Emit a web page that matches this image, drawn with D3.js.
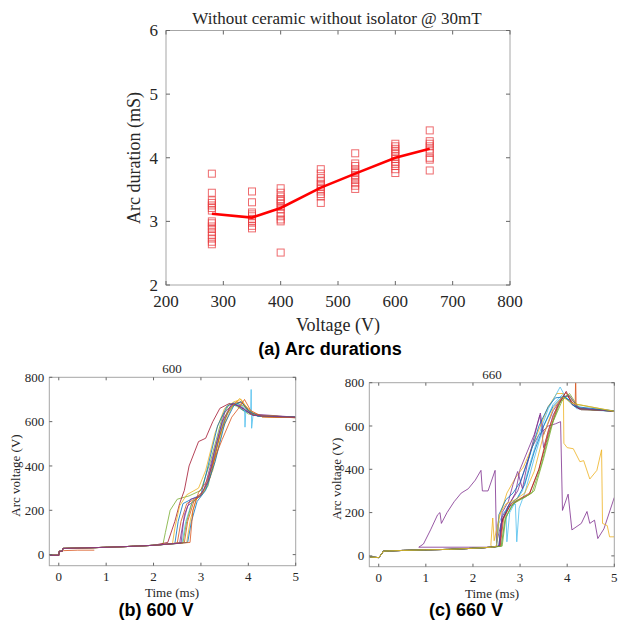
<!DOCTYPE html>
<html>
<head>
<meta charset="utf-8">
<script src="https://cdn.jsdelivr.net/npm/d3@7"></script>
<style>
  body { margin: 0; background: #fff; }
  text { font-family: "Liberation Serif", "Times New Roman", serif; fill: #262626; }
  .cap { font-family: "Liberation Sans", Arial, sans-serif; font-weight: bold; fill: #000; }
</style>
</head>
<body>
<svg id="chart"></svg>
<script>
// ---- (a) arc durations ----
const voltages = [280, 350, 400, 470, 530, 600, 660];
const dur280 = [3.75, 3.45, 3.33, 3.29, 3.25, 3.21, 3.17, 3.0, 2.97, 2.92, 2.88, 2.83, 2.78, 2.73, 2.68, 2.64];
const dur350 = [3.47, 3.30, 3.14, 3.11, 3.08, 3.04, 3.01, 2.98, 2.93, 2.89];
const dur400 = [3.52, 3.45, 3.39, 3.35, 3.32, 3.28, 3.23, 3.19, 3.13, 3.08, 3.03, 3.0, 2.51];
const dur470 = [3.82, 3.75, 3.68, 3.63, 3.59, 3.55, 3.51, 3.47, 3.43, 3.39, 3.29];
const dur530 = [4.07, 3.91, 3.87, 3.82, 3.78, 3.73, 3.69, 3.65, 3.60, 3.56, 3.51];
const dur600 = [4.22, 4.18, 4.14, 4.10, 4.06, 4.02, 3.98, 3.94, 3.90, 3.87, 3.82, 3.76];
const dur660 = [4.43, 4.26, 4.22, 4.18, 4.13, 4.08, 4.0, 3.97, 3.80];
const durations = [dur280, dur350, dur400, dur470, dur530, dur600, dur660];
const meanDur = [3.12, 3.06, 3.21, 3.53, 3.75, 4.0, 4.14];
const xTicksA = [200, 300, 400, 500, 600, 700, 800];
const yTicksA = [2, 3, 4, 5, 6];

// ---- (b) 600 V traces, time (ms) / voltage (V) ----
const baseB = [[-0.2, -3], [0, -3], [0.01, 15], [0.07, 15], [0.09, 28], [0.5, 30], [1, 33], [1.5, 37], [2, 42]];
const b1 = [[2.2, 48], [2.25, 100], [2.35, 200], [2.5, 250], [2.75, 265], [3.0, 290], [3.2, 420], [3.45, 620], [3.6, 680], [3.75, 670], [4.0, 635], [4.3, 622], [5, 618]];
const b2 = [[2.3, 55], [2.45, 150], [2.55, 230], [2.65, 290], [2.75, 400], [2.95, 510], [3.1, 525], [3.25, 600], [3.4, 660], [3.6, 682], [3.8, 670], [4.1, 628], [5, 620]];
const b3 = [[2.4, 50], [2.45, 120], [2.55, 220], [2.7, 270], [2.95, 300], [3.1, 380], [3.3, 550], [3.5, 660], [3.7, 690], [3.85, 700], [4.0, 650], [4.3, 622], [5, 618]];
const b4 = [[2.45, 50], [2.52, 150], [2.62, 230], [2.8, 250], [3.0, 270], [3.15, 400], [3.35, 580], [3.55, 670], [3.7, 685], [3.9, 650], [4.2, 625], [5, 620]];
const b5 = [[2.5, 52], [2.58, 150], [2.7, 230], [2.9, 255], [3.1, 300], [3.3, 460], [3.5, 620], [3.7, 680], [3.85, 690], [4.0, 645], [4.3, 622], [5, 618]];
const b6 = [[2.55, 52], [2.62, 140], [2.72, 220], [2.9, 250], [3.05, 280], [3.25, 440], [3.45, 600], [3.65, 680], [3.8, 675], [4.05, 635], [5, 620]];
const b7 = [[2.6, 52], [2.68, 150], [2.8, 230], [2.95, 260], [3.1, 300], [3.25, 420], [3.45, 590], [3.65, 670], [3.8, 680], [3.92, 660], [3.93, 575], [3.95, 660], [4.05, 640], [4.06, 745], [4.07, 570], [4.1, 630], [5, 618]];
const b8 = [[2.62, 52], [2.7, 150], [2.82, 240], [3.0, 265], [3.15, 310], [3.35, 500], [3.55, 640], [3.75, 685], [3.9, 670], [4.1, 630], [5, 620]];
const b9 = [[2.65, 55], [2.72, 150], [2.85, 240], [3.0, 270], [3.2, 350], [3.4, 540], [3.6, 660], [3.75, 690], [3.9, 680], [4.1, 630], [5, 620]];
const b10 = [[2.7, 55], [2.78, 160], [2.9, 250], [3.05, 280], [3.25, 380], [3.45, 560], [3.65, 665], [3.82, 705], [3.95, 670], [4.15, 628], [5, 618]];
const b11 = [[2.72, 55], [2.8, 150], [2.92, 240], [3.1, 290], [3.3, 420], [3.5, 590], [3.7, 675], [3.85, 690], [4.0, 650], [4.2, 625], [5, 620]];
const b12 = [[2.77, 55], [2.83, 200], [2.95, 280], [3.12, 330], [3.3, 440], [3.45, 520], [3.65, 620], [3.83, 670], [3.92, 700], [4.05, 650], [4.3, 622], [5, 618]];
const b13 = [[2.58, 52], [2.65, 180], [2.78, 250], [2.98, 262], [3.15, 330], [3.3, 480], [3.5, 640], [3.68, 682], [3.85, 665], [4.1, 628], [5, 620]];
const bShort = [[-0.2, -3], [0, -3], [0.01, 12], [0.1, 18], [0.4, 20], [0.75, 20]];
const tracesB = [b1, b2, b3, b4, b5, b6, b7, b8, b9, b10, b11, b12, b13];
const colorsB = ["#77AC30", "#A2142F", "#EDB120", "#0072BD", "#D95319", "#7E2F8E", "#4DBEEE", "#77AC30", "#D95319", "#EDB120", "#0072BD", "#D95319", "#7E2F8E"];

// ---- (c) 660 V traces ----
const baseC = [[-0.2, -5], [0, -8], [0.05, 5], [0.1, 22], [0.5, 25], [1, 28], [1.5, 30], [2, 35], [2.4, 40]];
const c1 = [[0.85, 40], [0.95, 55], [1.1, 120], [1.25, 190], [1.3, 200], [1.33, 150], [1.45, 200], [1.6, 250], [1.75, 290], [1.9, 310], [2.05, 350], [2.17, 395], [2.2, 300], [2.32, 300], [2.47, 395], [2.5, 60], [2.6, 150], [2.75, 230], [2.9, 290], [3.0, 400], [3.15, 480], [3.3, 560], [3.42, 650], [3.5, 500], [3.7, 650], [3.9, 730], [4.0, 740], [4.2, 685], [5, 668]];
const c2 = [[2.55, 45], [2.62, 180], [2.8, 250], [2.95, 300], [3.1, 400], [3.25, 500], [3.4, 560], [3.6, 600], [3.75, 610], [3.86, 620], [3.9, 210], [4.02, 285], [4.1, 120], [4.3, 150], [4.42, 205], [4.48, 150], [4.58, 165], [4.65, 80], [4.78, 125], [5, 270]];
const c3 = [[2.38, 50], [2.42, 175], [2.45, 70], [2.55, 170], [2.72, 290], [2.9, 360], [3.07, 410], [3.25, 500], [3.43, 600], [3.6, 690], [3.78, 750], [3.92, 750], [3.93, 520], [4.0, 500], [4.13, 495], [4.27, 435], [4.35, 440], [4.48, 355], [4.63, 395], [4.73, 490], [4.75, 150], [4.85, 140], [4.9, 88], [5, 88]];
const c4 = [[2.5, 45], [2.55, 150], [2.65, 200], [2.7, 210], [2.72, 65], [2.78, 200], [2.9, 250], [3.05, 300], [3.2, 420], [3.4, 560], [3.6, 680], [3.85, 780], [3.95, 740], [4.2, 680], [5, 668]];
const c5 = [[2.6, 45], [2.68, 160], [2.8, 230], [2.9, 240], [2.93, 65], [2.98, 220], [3.1, 290], [3.3, 450], [3.5, 600], [3.7, 700], [3.9, 745], [4.1, 700], [4.3, 675], [5, 668]];
const c6 = [[2.55, 45], [2.6, 150], [2.75, 230], [2.95, 270], [3.1, 330], [3.3, 480], [3.5, 600], [3.7, 690], [3.9, 735], [4.05, 720], [4.25, 680], [5, 668]];
const c7 = [[2.58, 45], [2.65, 170], [2.8, 240], [3.0, 265], [3.2, 290], [3.4, 400], [3.6, 580], [3.8, 700], [3.97, 755], [4.1, 710], [4.17, 700], [4.18, 830], [4.19, 690], [4.3, 675], [5, 670]];
const c8 = [[2.57, 45], [2.63, 170], [2.78, 230], [3.0, 262], [3.2, 285], [3.4, 400], [3.6, 560], [3.8, 690], [3.98, 760], [4.1, 700], [4.25, 680], [5, 668]];
const c9 = [[2.6, 45], [2.68, 170], [2.85, 240], [3.05, 265], [3.25, 290], [3.45, 420], [3.65, 590], [3.85, 710], [4.02, 745], [4.12, 715], [4.2, 700], [4.3, 678], [5, 668]];
const c10 = [[2.56, 45], [2.62, 200], [2.75, 250], [2.85, 330], [2.95, 390], [3.05, 310], [3.15, 420], [3.3, 550], [3.43, 660], [3.5, 560], [3.7, 670], [3.9, 735], [4.05, 740], [4.25, 680], [5, 668]];
const c11 = [[2.5, 45], [2.55, 190], [2.7, 260], [2.85, 290], [3.0, 340], [3.2, 460], [3.4, 600], [3.6, 690], [3.75, 730], [3.95, 735], [4.15, 690], [5, 670]];
const c12 = [[2.62, 45], [2.7, 180], [2.88, 250], [3.1, 270], [3.3, 300], [3.5, 450], [3.7, 620], [3.9, 720], [4.05, 750], [4.2, 700], [5, 668]];
const c13 = [[2.5, 45], [2.56, 190], [2.7, 240], [2.9, 260], [3.1, 290], [3.3, 390], [3.5, 560], [3.7, 680], [3.9, 735], [4.1, 705], [5, 668]];
const tracesC = [c1, c2, c3, c4, c5, c6, c7, c8, c9, c10, c11, c12, c13];
const colorsC = ["#7E2F8E", "#7E2F8E", "#EDB120", "#4DBEEE", "#4DBEEE", "#0072BD", "#D95319", "#A2142F", "#77AC30", "#7E2F8E", "#0072BD", "#77AC30", "#EDB120"];

const xTicksB = [0, 1, 2, 3, 4, 5];
const yTicksB = [0, 200, 400, 600, 800];

const svg = d3.select("#chart").attr("width", 620).attr("height", 625);

// inward ticks on all four sides + grey box
function boxAxes(g, x, y, xt, yt, tick, fs, lblX, lblY) {
    const [x0, x1] = x.range(), [y0, y1] = y.range();
    g.append("rect")
        .attr("x", x0).attr("y", y1).attr("width", x1 - x0).attr("height", y0 - y1)
        .attr("fill", "none").attr("stroke", "#a6a6a6").attr("stroke-width", 1);
    const tk = g.append("g").attr("stroke", "#666").attr("stroke-width", 1);
    xt.forEach(t => {
        tk.append("line").attr("x1", x(t)).attr("x2", x(t)).attr("y1", y0).attr("y2", y0 - tick);
        tk.append("line").attr("x1", x(t)).attr("x2", x(t)).attr("y1", y1).attr("y2", y1 + tick);
    });
    yt.forEach(t => {
        tk.append("line").attr("y1", y(t)).attr("y2", y(t)).attr("x1", x0).attr("x2", x0 + tick);
        tk.append("line").attr("y1", y(t)).attr("y2", y(t)).attr("x1", x1).attr("x2", x1 - tick);
    });
    g.selectAll(null).data(xt).join("text")
        .attr("x", d => x(d)).attr("y", y0 + lblX)
        .attr("text-anchor", "middle").style("font-size", fs + "px").text(d => d);
    g.selectAll(null).data(yt).join("text")
        .attr("x", x0 - lblY).attr("y", d => y(d)).attr("dy", "0.35em")
        .attr("text-anchor", "end").style("font-size", fs + "px").text(d => d);
}

// ---------- panel (a) ----------
const xA = d3.scaleLinear().domain([200, 800]).range([166, 510]);
const yA = d3.scaleLinear().domain([2, 6]).range([285, 30.5]);
const gA = svg.append("g");
boxAxes(gA, xA, yA, xTicksA, yTicksA, 4, 17, 22, 8);

const pts = [];
voltages.forEach((v, i) => durations[i].forEach(d => pts.push({ v, d })));
gA.append("g").selectAll("rect").data(pts).join("rect")
    .attr("x", p => xA(p.v) - 3.5).attr("y", p => yA(p.d) - 3.5)
    .attr("width", 7).attr("height", 7)
    .attr("fill", "none").attr("stroke", "#e8393d").attr("stroke-opacity", 0.75).attr("stroke-width", 1);

gA.append("path")
    .datum(voltages.map((v, i) => [v, meanDur[i]]))
    .attr("fill", "none").attr("stroke", "#ff0000").attr("stroke-width", 2.6)
    .attr("d", d3.line().x(d => xA(d[0])).y(d => yA(d[1])));

gA.append("text").attr("x", 337).attr("y", 24).attr("text-anchor", "middle")
    .style("font-size", "17px").text("Without ceramic without isolator @ 30mT");
gA.append("text").attr("x", 338).attr("y", 331).attr("text-anchor", "middle")
    .style("font-size", "18px").text("Voltage (V)");
gA.append("text").attr("transform", "translate(140,158) rotate(-90)").attr("text-anchor", "middle")
    .style("font-size", "18px").text("Arc duration (mS)");
svg.append("text").attr("class", "cap").attr("x", 330).attr("y", 355).attr("text-anchor", "middle")
    .style("font-size", "18px").text("(a) Arc durations");

// ---------- panels (b), (c) ----------
function wavePanel(id, xr, yr, traces, colors, extra, title, titleX, labelX, capX, capText) {
    const x = d3.scaleLinear().domain([-0.2, 5]).range(xr);
    const y = d3.scaleLinear().domain([-50, 800]).range(yr);
    const g = svg.append("g");
    g.append("clipPath").attr("id", id).append("rect")
        .attr("x", xr[0]).attr("y", yr[1]).attr("width", xr[1] - xr[0]).attr("height", yr[0] - yr[1]);
    const line = d3.line().x(d => x(d[0])).y(d => y(d[1]));
    const lines = g.append("g").attr("clip-path", `url(#${id})`).attr("fill", "none").attr("stroke-width", 0.8);
    extra.forEach(e => lines.append("path").datum(e.pts).attr("stroke", e.color).attr("d", line));
    traces.forEach((tr, i) => {
        lines.append("path").datum(tr).attr("stroke", colors[i]).attr("d", line);
    });
    boxAxes(g, x, y, xTicksB, yTicksB, 3, 13, 15, 5);
    g.append("text").attr("x", titleX).attr("y", yr[1] - 4).attr("text-anchor", "middle")
        .style("font-size", "13px").text(title);
    g.append("text").attr("x", titleX).attr("y", yr[0] + 31).attr("text-anchor", "middle")
        .style("font-size", "13px").text("Time (ms)");
    g.append("text").attr("transform", `translate(${labelX},${(yr[0] + yr[1]) / 2 + 4}) rotate(-90)`)
        .attr("text-anchor", "middle").style("font-size", "13px").text("Arc voltage (V)");
    svg.append("text").attr("class", "cap").attr("x", capX).attr("y", 616).attr("text-anchor", "middle")
        .style("font-size", "18px").text(capText);
}

const fullB = tracesB.map(t => baseB.concat(t));
const fullC = tracesC.map(t => baseC.concat(t));
wavePanel("clipB", [49.3, 295.7], [565.7, 377.3], fullB, colorsB,
    [{ pts: bShort, color: "#D95319" }], "600", 172, 20, 156, "(b) 600 V");
wavePanel("clipC", [369.3, 614.3], [566.7, 382.7], fullC, colorsC,
    [], "660", 492, 341, 466, "(c) 660 V");
</script>
</body>
</html>
